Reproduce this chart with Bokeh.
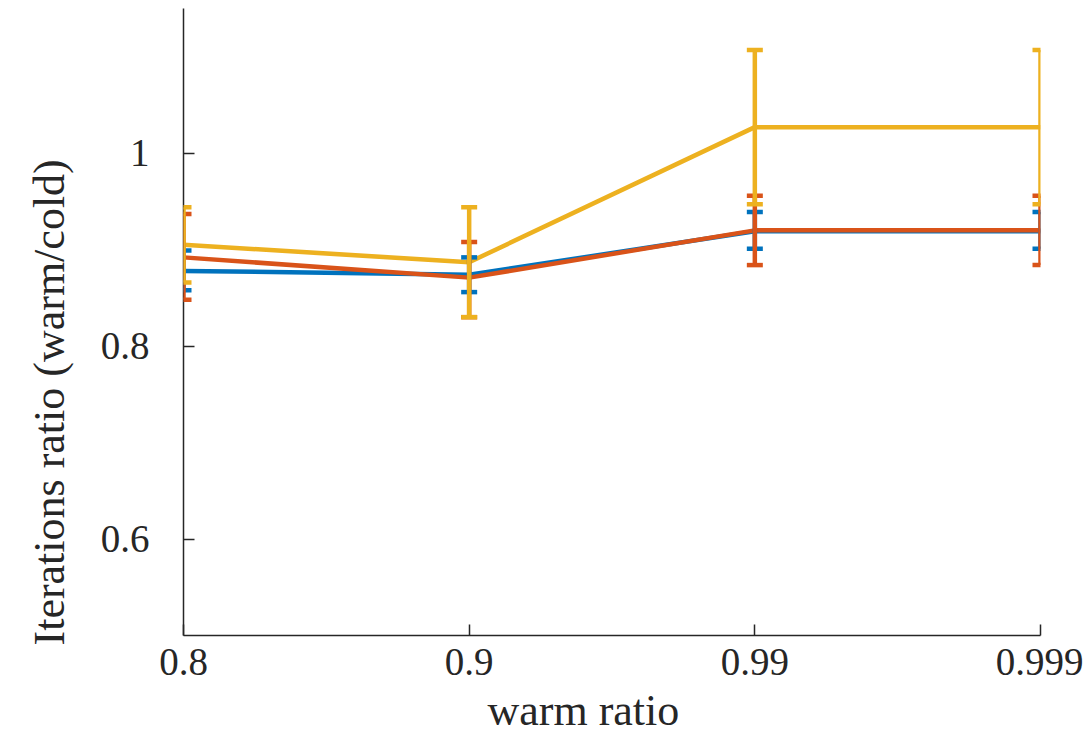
from bokeh.plotting import figure
from bokeh.models import Range1d, FixedTicker, Whisker, TeeHead, ColumnDataSource, Title
from bokeh.embed import file_html
from bokeh.resources import INLINE

categories = ["0.8", "0.9", "0.99", "0.999"]
xpos = [1, 2, 3, 4]

blue_mean = [0.878, 0.874, 0.919, 0.919]
blue_lower = [0.858, 0.856, 0.901, 0.901]
blue_upper = [0.899, 0.892, 0.939, 0.939]

red_mean = [0.892, 0.871, 0.920, 0.920]
red_lower = [0.848, 0.830, 0.884, 0.884]
red_upper = [0.937, 0.908, 0.956, 0.956]

yellow_mean = [0.905, 0.887, 1.027, 1.027]
yellow_lower = [0.866, 0.830, 0.947, 0.947]
yellow_upper = [0.944, 0.944, 1.107, 1.107]

y_ticks = [0.6, 0.8, 1.0]
y_tick_labels = {0.6: "0.6", 0.8: "0.8", 1.0: "1"}

FONT = "Liberation Serif"
TXT = "#262626"
LW = 4.5

p = figure(width=1083, height=754, output_backend="svg", toolbar_location=None,
           x_range=Range1d(1, 4), y_range=Range1d(0.5, 1.15),
           min_border_left=183, min_border_right=43, min_border_top=8,
           min_border_bottom=119)
p.grid.visible = False
p.outline_line_color = None
p.background_fill_color = "white"
p.border_fill_color = "white"

series = [
    (blue_mean, blue_lower, blue_upper, "#0072BD"),
    (red_mean, red_lower, red_upper, "#D95319"),
    (yellow_mean, yellow_lower, yellow_upper, "#EDB120"),
]

for mean, lo, hi, c in series:
    src = ColumnDataSource(dict(x=xpos, y=mean, lo=lo, hi=hi))
    p.line("x", "y", source=src, line_color=c, line_width=LW)
    w = Whisker(source=src, base="x", lower="lo", upper="hi", line_color=c, line_width=LW,
                level="overlay",
                upper_head=TeeHead(size=16, line_color=c, line_width=LW),
                lower_head=TeeHead(size=16, line_color=c, line_width=LW))
    p.add_layout(w)

for ax in (p.xaxis[0], p.yaxis[0]):
    ax.axis_line_color = TXT
    ax.axis_line_width = 1.5
    ax.major_tick_line_color = TXT
    ax.major_tick_line_width = 1.5
    ax.major_tick_in = 11
    ax.major_tick_out = 0
    ax.minor_tick_line_color = None
    ax.major_label_text_font = FONT
    ax.major_label_text_font_size = "39px"
    ax.major_label_text_color = TXT

p.xaxis.ticker = FixedTicker(ticks=xpos)
p.xaxis.major_label_overrides = {x: c for x, c in zip(xpos, categories)}
p.xaxis.major_label_standoff = 13

p.yaxis.ticker = FixedTicker(ticks=y_ticks)
p.yaxis.major_label_overrides = y_tick_labels
p.yaxis.major_label_standoff = 34

ytitle = Title(text="Iterations ratio (warm/cold)", align="left", offset=-10,
               vertical_align="middle",
               text_font=FONT, text_font_size="44px", text_font_style="normal",
               text_color=TXT, standoff=45)
p.add_layout(ytitle, "left")

xtitle = Title(text="warm ratio", align="left", offset=304,
               text_font=FONT, text_font_size="44px", text_font_style="normal",
               text_color=TXT, standoff=12)
p.add_layout(xtitle, "below")

open("out.html", "w").write(file_html(p, INLINE))
